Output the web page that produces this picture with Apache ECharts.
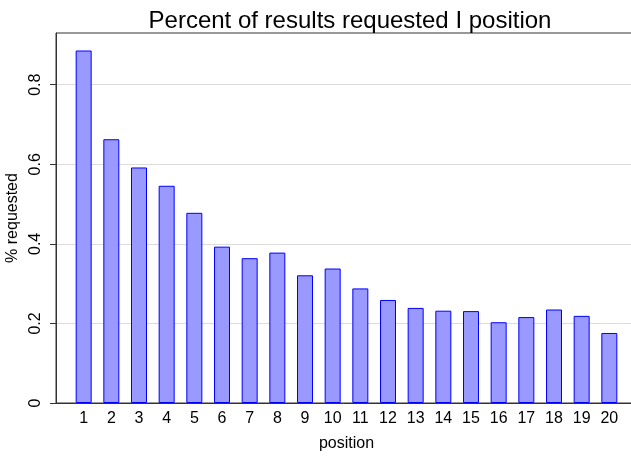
<!DOCTYPE html>
<html>
<head>
<meta charset="utf-8">
<script src="https://cdn.jsdelivr.net/npm/echarts@6/dist/echarts.min.js"></script>
<style>
  html, body { margin: 0; padding: 0; background: #fff; }
  #chart { width: 631px; height: 456px; }
</style>
</head>
<body>
<div id="chart"></div>
<script>
// positions 1..20 and share of results requested
const positions = [1, 2, 3, 4, 5, 6, 7, 8, 9, 10, 11, 12, 13, 14, 15, 16, 17, 18, 19, 20];
const requested = [0.886, 0.663, 0.592, 0.546, 0.478, 0.393, 0.364, 0.378, 0.321, 0.338,
                   0.288, 0.259, 0.239, 0.232, 0.231, 0.203, 0.216, 0.235, 0.219, 0.176];
const yTicks = [0, 0.2, 0.4, 0.6, 0.8];

const font = 'Liberation Sans, Arial, Helvetica, sans-serif';

let chart = echarts.init(document.getElementById('chart'));
let option = {
  animation: false,
  title: {
    text: 'Percent of results requested I position',
    left: 345,
    textAlign: 'center',
    top: 4,
    textStyle: { fontFamily: font, fontSize: 24, fontWeight: 'normal', color: '#000' }
  },
  grid: {
    left: 56,
    right: -6,
    top: 33,
    bottom: 53,
    outerBoundsMode: 'none',
    show: true,
    borderColor: '#333',
    borderWidth: 1
  },
  xAxis: {
    type: 'value',
    min: 0,
    max: 21,
    interval: 1,
    name: 'position',
    nameLocation: 'middle',
    nameGap: 33,
    nameTextStyle: { fontFamily: font, fontSize: 16, color: '#000' },
    axisLine: { show: true, onZero: false, lineStyle: { color: '#333' } },
    axisTick: { show: false },
    splitLine: { show: false },
    axisLabel: {
      customValues: positions,
      margin: 8,
      fontFamily: font,
      fontSize: 16,
      color: '#000'
    }
  },
  yAxis: {
    type: 'value',
    min: 0,
    max: 0.93,
    name: '% requested',
    nameLocation: 'middle',
    nameRotate: 90,
    nameGap: 28,
    nameTextStyle: { fontFamily: font, fontSize: 16, color: '#000' },
    axisLine: { show: true, lineStyle: { color: '#333' } },
    axisTick: { show: true, customValues: yTicks, length: 6, lineStyle: { color: '#333' } },
    splitLine: { show: true, lineStyle: { color: '#dcdcdc', width: 1 } },
    axisLabel: {
      customValues: yTicks,
      rotate: 90,
      margin: 12,
      fontFamily: font,
      fontSize: 16,
      color: '#000',
      formatter: v => v === 0 ? '0' : v.toFixed(1)
    }
  },
  series: [{
    type: 'bar',
    barWidth: 16,
    itemStyle: { color: '#9999ff', borderColor: '#0000ff', borderWidth: 1 },
    data: positions.map((p, i) => [p, requested[i]])
  }]
};
chart.setOption(option);
</script>
</body>
</html>
